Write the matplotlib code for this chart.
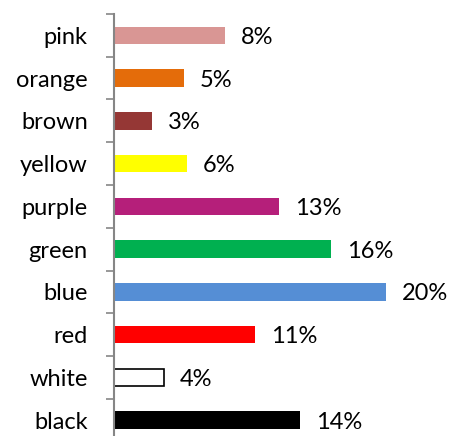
import matplotlib
matplotlib.use("Agg")
import matplotlib.pyplot as plt
from matplotlib.ticker import FixedLocator

categories = ["pink", "orange", "brown", "yellow", "purple", "green", "blue", "red", "white", "black"]
values = [8.2, 5.15, 2.8, 5.4, 12.2, 16.0, 20.05, 10.4, 3.7, 13.7]
labels = ["8%", "5%", "3%", "6%", "13%", "16%", "20%", "11%", "4%", "14%"]
colors = ["#D99694", "#E46C0A", "#953735", "#FFFF00", "#B51F7A", "#00B050", "#558ED5", "#FF0000", "#FFFFFF", "#000000"]
edges = ["none"] * 8 + ["#000000", "none"]

W, H = 449, 436
fig = plt.figure(figsize=(W / 100, H / 100), dpi=100)
left, right = 113.5, 449
top, bottom = 14, 441.5
ax = fig.add_axes([left / W, 1 - bottom / H, (right - left) / W, (bottom - top) / H])

y = list(range(len(categories)))
ax.barh(y, values, height=0.41, color=colors, edgecolor=edges, linewidth=1.2, zorder=2)
ax.set_ylim(len(categories) - 0.5, -0.5)
px_per_unit = 272.7 / 20.05
ax.set_xlim(0, (right - left) / px_per_unit)

font = "Lato"
fs = 17
for yi, v, lab in zip(y, values, labels):
    ax.annotate(lab, (v, yi), xytext=(11.5, -1.5), textcoords="offset points",
                ha="left", va="center", fontsize=fs, family=font, color="#000000")

ax.set_yticks(y)
ax.set_yticklabels(categories, fontsize=fs, family=font)
ax.tick_params(axis="y", which="major", length=0, pad=18.5)
ax.yaxis.set_minor_locator(FixedLocator([i - 0.5 for i in range(len(categories) + 1)]))
ax.tick_params(axis="y", which="minor", length=6, width=1.2, color="#868686", direction="out")
ax.set_xticks([])
for s in ["top", "right", "bottom"]:
    ax.spines[s].set_visible(False)
ax.spines["left"].set_color("#868686")
ax.spines["left"].set_linewidth(1.5)
ax.spines["left"].set_zorder(3)

fig.savefig("out.png", dpi=100)
